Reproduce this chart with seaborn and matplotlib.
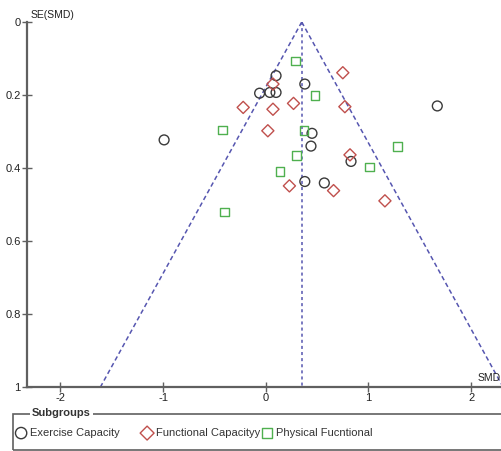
import numpy as np
import pandas as pd
import seaborn as sns
import matplotlib.pyplot as plt
from matplotlib.patches import Rectangle

# funnel plot data
ex_smd = [0.10, -0.06, 0.04, 0.10, 0.38, 1.67, -0.99, 0.45, 0.44, 0.83, 0.38, 0.57]
ex_se = [0.147, 0.195, 0.193, 0.193, 0.170, 0.230, 0.323, 0.305, 0.340, 0.382, 0.437, 0.441]
fc_smd = [0.07, -0.22, 0.07, 0.27, 0.02, 0.75, 0.77, 0.23, 0.82, 0.66, 1.16]
fc_se = [0.170, 0.234, 0.239, 0.223, 0.298, 0.139, 0.232, 0.449, 0.364, 0.462, 0.490]
pf_smd = [0.29, 0.48, 0.37, 0.30, 0.14, 1.01, 1.28, -0.42, -0.40]
pf_se = [0.107, 0.201, 0.298, 0.366, 0.410, 0.397, 0.341, 0.296, 0.521]
pooled = 0.35

groups = ["Exercise Capacity", "Functional Capacityy", "Physical Fucntional"]
markers = {"Exercise Capacity": "o", "Functional Capacityy": "D", "Physical Fucntional": "s"}
colors = {"Exercise Capacity": "#3a3a3a", "Functional Capacityy": "#c0504d", "Physical Fucntional": "#4fb04f"}
sizes = {"Exercise Capacity": 50, "Functional Capacityy": 38, "Physical Fucntional": 38}

df = pd.concat([
    pd.DataFrame({"smd": ex_smd, "se": ex_se, "group": groups[0]}),
    pd.DataFrame({"smd": fc_smd, "se": fc_se, "group": groups[1]}),
    pd.DataFrame({"smd": pf_smd, "se": pf_se, "group": groups[2]}),
])

sns.set_theme(style="white")
plt.rcParams["font.family"] = ["Liberation Sans", "DejaVu Sans"]

fig = plt.figure(figsize=(5.02, 4.51), dpi=100)
ax = fig.add_axes([27 / 502, 64 / 451, 475 / 502, 365 / 451])

# funnel lines
se_line = np.array([0.0, 1.0])
lc = "#5656b0"
ax.plot(pooled - 1.96 * se_line, se_line, color=lc, lw=1.1, ls=(0, (3, 2)))
ax.plot(pooled + 1.96 * se_line, se_line, color=lc, lw=1.1, ls=(0, (3, 2)))
ax.plot([pooled, pooled], [0, 1], color=lc, lw=1.1, ls=(0, (2, 2)))

for g in groups:
    sub = df[df["group"] == g]
    sns.scatterplot(data=sub, x="smd", y="se", marker=markers[g], s=sizes[g],
                    facecolors="none", edgecolors=colors[g], color=colors[g],
                    linewidths=1.0, label=g, ax=ax, zorder=3)

ax.set_xlim(-2.325, 2.3)
ax.set_ylim(1, 0)
ax.set_xticks([-2, -1, 0, 1, 2])
ax.set_xticklabels(["-2", "-1", "0", "1", "2"])
ax.set_yticks([0, 0.2, 0.4, 0.6, 0.8, 1])
ax.set_yticklabels(["0", "0.2", "0.4", "0.6", "0.8", "1"])
ax.set_xlabel("")
ax.set_ylabel("")
for s in ["top", "right"]:
    ax.spines[s].set_visible(False)
for s in ["left", "bottom"]:
    ax.spines[s].set_color("#606060")
    ax.spines[s].set_linewidth(1.6)
ax.tick_params(axis="both", direction="inout", length=7, width=1, color="#606060",
               labelsize=8, labelcolor="#222222", pad=1)
ax.tick_params(axis="y", left=True)
ax.tick_params(axis="x", bottom=True)

handles, labels = ax.get_legend_handles_labels()
ax.get_legend().remove()

fig.text(31 / 502, 1 - 15 / 451, "SE(SMD)", fontsize=7.5, va="center", color="#222222")
fig.text(501 / 502, 1 - 378 / 451, "SMD", fontsize=7.5, va="center", ha="right", color="#222222")

# group box legend
fig.add_artist(Rectangle((13 / 502, 1.5 / 451), 1.0, 35.5 / 451, transform=fig.transFigure,
                         fill=False, edgecolor="#606060", lw=1.2))
fig.text(32 / 502, 1 - 413 / 451, "Subgroups", fontsize=8, weight="bold", va="center",
         color="#333333", bbox=dict(fc="white", ec="none", pad=1.5))
xs = [10, 136, 256]
for h, lab, x0 in zip(handles, labels, xs):
    fig.legend([h], [lab], loc="center left", bbox_to_anchor=(x0 / 502, 1 - 433 / 451),
               frameon=False, fontsize=8, handletextpad=0.3, handlelength=1.0,
               markerscale=1.15, borderpad=0, labelcolor="#333333")

fig.savefig("out.png", dpi=100)
